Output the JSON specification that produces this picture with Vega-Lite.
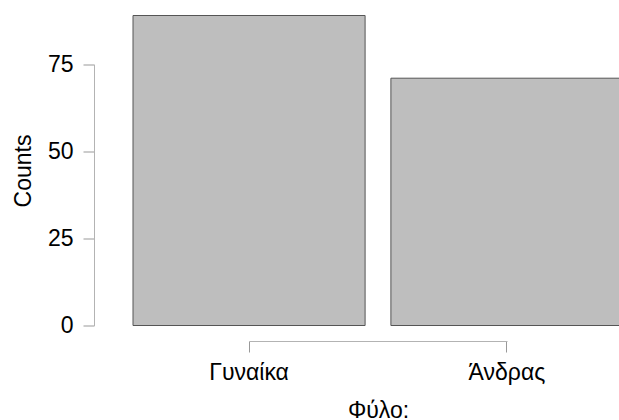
{
  "$schema": "https://vega.github.io/schema/vega-lite/v6.json",
  "autosize": {"type": "none"},
  "padding": {"left": 133, "top": 15.5, "right": 0, "bottom": 100},
  "width": 490,
  "height": 310,
  "background": "white",
  "config": {"view": {"stroke": null}, "font": "Liberation Sans"},
  "data": {"values": [
    {"sex": "Γυναίκα", "count": 89},
    {"sex": "Άνδρας", "count": 71}
  ]},
  "mark": {"type": "bar", "fill": "#BEBEBE", "stroke": "#555555", "strokeWidth": 1},
  "encoding": {
    "x": {
      "field": "sex", "type": "nominal", "sort": null,
      "scale": {"paddingInner": 0.1, "paddingOuter": 0},
      "axis": {
        "title": "Φύλο:", "titleFontSize": 23, "titleFontWeight": "normal", "titleColor": "black", "titlePadding": 15,
        "labelAngle": 0, "labelFontSize": 23, "labelColor": "black", "labelPadding": 9,
        "offset": 15.5, "tickSize": 11, "tickColor": "#999999", "tickWidth": 1,
        "domainColor": "#b3b3b3", "domainWidth": 1, "domainDash": [0, 116, 258, 1000],
        "grid": false
      }
    },
    "y": {
      "field": "count", "type": "quantitative",
      "scale": {"domain": [0, 89], "nice": false, "zero": true},
      "axis": {
        "title": "Counts", "titleFontSize": 23, "titleFontWeight": "normal", "titleColor": "black", "titlePadding": 12,
        "values": [0, 25, 50, 75], "labelFontSize": 23, "labelColor": "black", "labelPadding": 10,
        "offset": 39, "tickSize": 11, "tickColor": "#999999",
        "domainColor": "#b3b3b3", "domainDash": [261.2, 1000],
        "grid": false
      }
    }
  }
}
